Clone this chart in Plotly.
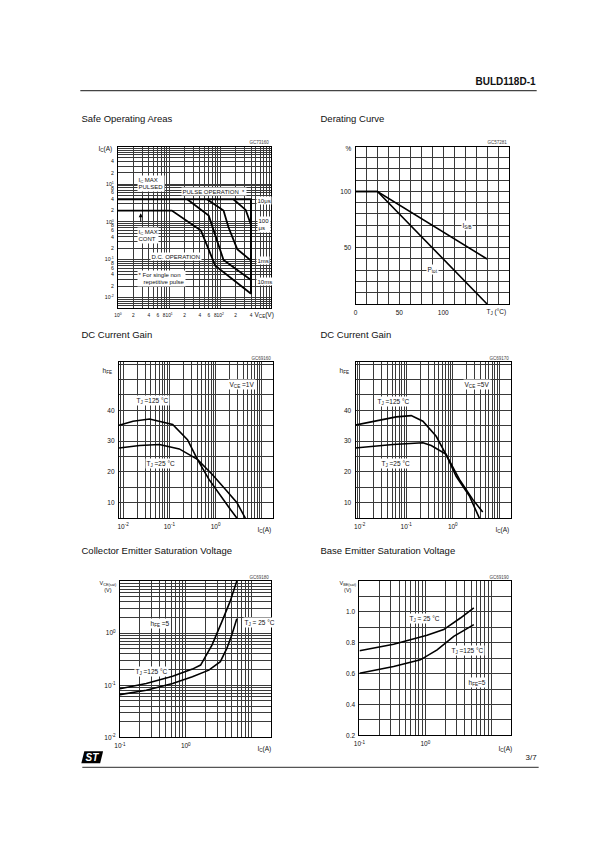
import plotly.graph_objects as go

W, H = 595, 842

# ---------------- data ----------------
# Safe operating areas (V_CE in V, I_C in A)
soa_lim_v = [1, 400, 400]
soa_lim_i = [4.0, 4.0, 0.0125]
soa_100us_v = [181, 315, 400]
soa_100us_i = [4.0, 2.08, 0.83]
soa_1ms_v = [55, 116, 145, 215, 400]
soa_1ms_i = [4.0, 2.0, 0.72, 0.19, 0.094]
soa_10ms_v = [22.6, 59.5, 116, 400]
soa_10ms_i = [4.0, 1.47, 0.098, 0.029]
soa_dc_v = [1, 11.3, 42, 80, 400]
soa_dc_i = [2.0, 2.0, 0.59, 0.069, 0.0125]

# Derating curve
der_tj = [0, 25, 150]
der_ptot = [100, 100, 0]
der_isb = [100, 100, 40]

# DC current gain, V_CE = 1 V
g1_ic_125 = [0.0082, 0.0164, 0.0373, 0.118, 0.247, 0.405, 0.72, 1.28, 2.1, 2.91]
g1_hfe_125 = [35.2, 36.5, 37.2, 35.4, 30.5, 24.1, 17.6, 12.2, 7.8, 5.0]
g1_ic_25 = [0.0082, 0.0228, 0.061, 0.164, 0.405, 0.85, 1.64, 2.91, 4.4]
g1_hfe_25 = [27.8, 28.6, 28.9, 27.5, 24.1, 19.2, 14.3, 10.0, 5.0]

# DC current gain, V_CE = 5 V
g5_ic_125 = [0.0078, 0.0228, 0.061, 0.128, 0.228, 0.44, 0.72, 1.39, 2.68, 4.4]
g5_hfe_125 = [35.2, 36.5, 37.9, 38.3, 36.5, 31.6, 25.7, 17.6, 11.1, 7.0]
g5_ic_25 = [0.0078, 0.0518, 0.228, 0.344, 0.72, 1.18, 2.28, 3.73]
g5_hfe_25 = [27.8, 28.9, 29.5, 28.6, 25.7, 18.6, 12.2, 5.0]

# Collector-emitter saturation voltage, hFE = 5
vce_ic_125 = [0.1, 0.251, 0.631, 1.26, 1.68, 2.51, 3.55, 4.73, 5.96]
vce_v_125 = [0.086, 0.108, 0.149, 0.204, 0.244, 0.594, 1.68, 4.1, 10.0]
vce_ic_25 = [0.1, 0.251, 0.631, 1.26, 2.24, 3.35, 4.22, 5.01, 5.96]
vce_v_25 = [0.066, 0.080, 0.108, 0.145, 0.195, 0.283, 0.513, 0.93, 1.89]

# Base-emitter saturation voltage, hFE = 5
vbe_ic_25 = [0.1, 0.33, 1.06, 1.9, 3.41, 5.45]
vbe_v_25 = [0.748, 0.79, 0.848, 0.885, 0.96, 1.026]
vbe_ic_125 = [0.1, 0.33, 0.84, 1.51, 2.7, 5.45]
vbe_v_125 = [0.602, 0.646, 0.689, 0.754, 0.841, 0.917]

FONT = "Liberation Sans, Arial, Helvetica, sans-serif"
INK = "#111111"
GRID = "#3a3a3a"


def sup10(e):
    return "10<sup>%d</sup>" % e


def log_ticks(e0, e1, labels):
    vals, text = [], []
    for e in range(e0, e1 + 1):
        for m in range(1, 10):
            vals.append(m * 10.0 ** e)
            text.append(labels.get((e, m), ""))
    return vals, text


def xd(a, b):
    return [a / W, b / W]


def yd(top, bot):
    return [1 - bot / H, 1 - top / H]


fig = go.Figure()
lay = {}


def axis(name, dom, rng, typ, vals, text, fsize=6.5):
    d = dict(domain=dom, range=rng, type=typ, tickmode="array", tickvals=vals,
             ticktext=text, showgrid=True, gridcolor=GRID, gridwidth=0.6,
             showline=True, mirror=True, linecolor="#000", linewidth=1.1,
             zeroline=False, ticks="", ticklabelstandoff=2, tickangle=0,
             tickfont=dict(family=FONT, size=fsize, color=INK), fixedrange=True)
    lay[name] = d


def line(x, y, xa, ya, width=1.6):
    fig.add_trace(go.Scatter(x=x, y=y, mode="lines", xaxis=xa, yaxis=ya,
                             line=dict(color="#000", width=width),
                             showlegend=False, hoverinfo="skip"))


# ---- chart 1: SOA ----
xv, xt = log_ticks(0, 2, {(0, 1): sup10(0), (0, 2): "2", (0, 4): "4", (0, 6): "6", (0, 8): "8",
                          (1, 1): sup10(1), (1, 2): "2", (1, 4): "4", (1, 6): "6", (1, 8): "8",
                          (2, 1): sup10(2), (2, 2): "2", (2, 4): "4"})
xv.append(1000.0); xt.append("")
axis("xaxis", xd(105, 260), [0, 3], "log", xv, xt, 4.8)
yv, yt = log_ticks(-3, 1, {(-2, 1): sup10(-2), (-2, 2): "2", (-2, 4): "4", (-2, 6): "6", (-2, 8): "8",
                           (-1, 1): sup10(-1), (-1, 2): "2", (-1, 4): "4", (-1, 6): "6", (-1, 8): "8",
                           (0, 1): sup10(0), (0, 2): "2", (0, 4): "4", (0, 6): "6", (0, 8): "8",
                           (1, 1): sup10(1), (1, 2): "2", (1, 4): "4"})
yv.append(100.0); yt.append("")
axis("yaxis", yd(139, 301), [-2.28, 2.0], "log", yv, yt, 5.2)
line(soa_lim_v, soa_lim_i, "x", "y", 2.0)
line(soa_100us_v, soa_100us_i, "x", "y", 1.8)
line(soa_1ms_v, soa_1ms_i, "x", "y", 1.8)
line(soa_10ms_v, soa_10ms_i, "x", "y", 1.8)
line(soa_dc_v, soa_dc_i, "x", "y", 1.8)

# ---- chart 2: derating ----
tv = [i * 12.5 for i in range(15)]
tt = [{0: "0", 4: "50", 8: "100"}.get(i, "") for i in range(15)]
axis("xaxis2", xd(345, 500), [0, 175], "linear", tv, tt)
pv = list(range(0, 141, 10))
pt = [{50: "50", 100: "100"}.get(v, "") for v in pv]
axis("yaxis2", yd(139, 297), [0, 140], "linear", pv, pt)
line(der_tj, der_ptot, "x2", "y2", 1.6)
line(der_tj, der_isb, "x2", "y2", 1.6)

# ---- charts 3/4: hFE ----
gv, gt = log_ticks(-3, 1, {(-2, 1): sup10(-2), (-1, 1): sup10(-1), (0, 1): sup10(0)})
hv = list(range(5, 56, 5))
ht = [str(v) if v in (10, 20, 30, 40) else "" for v in hv]
axis("xaxis3", xd(106, 262), [-2.09, 1.25], "log", gv, gt)
axis("yaxis3", yd(355, 512), [5, 55.8], "linear", hv, ht)
axis("xaxis4", xd(345, 502), [-2.09, 1.25], "log", gv, gt)
axis("yaxis4", yd(355, 512), [5, 55.8], "linear", hv, ht)
line(g1_ic_125, g1_hfe_125, "x3", "y3")
line(g1_ic_25, g1_hfe_25, "x3", "y3")
line(g5_ic_125, g5_hfe_125, "x4", "y4")
line(g5_ic_25, g5_hfe_25, "x4", "y4")

# ---- chart 5: VCE(sat) ----
sv, st = log_ticks(-1, 1, {(-1, 1): sup10(-1), (0, 1): sup10(0)})
axis("xaxis5", xd(107, 260), [-1, 1.3], "log", sv, st)
vv, vt = log_ticks(-2, 0, {(-2, 1): sup10(-2), (-1, 1): sup10(-1), (0, 1): sup10(0)})
vv.append(10.0); vt.append("")
axis("yaxis5", yd(575, 732), [-2, 1], "log", vv, vt)
line(vce_ic_125, vce_v_125, "x5", "y5")
line(vce_ic_25, vce_v_25, "x5", "y5")

# ---- chart 6: VBE(sat) ----
axis("xaxis6", xd(349, 502), [-1, 1.3], "log", sv, st)
bv = [round(0.2 + 0.1 * i, 1) for i in range(11)]
bt = ["%.1f" % v if i % 2 == 0 and v < 1.1 else "" for i, v in enumerate(bv)]
axis("yaxis6", yd(575, 730), [0.2, 1.2], "linear", bv, bt)
line(vbe_ic_25, vbe_v_25, "x6", "y6")
line(vbe_ic_125, vbe_v_125, "x6", "y6")

for i in range(1, 7):
    k = "" if i == 1 else str(i)
    lay["xaxis" + k]["anchor"] = "y" + k
    lay["yaxis" + k]["anchor"] = "x" + k

# ---------------- annotations ----------------
ann = []


def pa(x, y, text, size=6.5, xa="center", ya="middle", bg=None, bold=False, align="center", color=INK):
    d = dict(x=x / W, y=1 - y / H, xref="paper", yref="paper", text=("<b>%s</b>" % text) if bold else text,
             showarrow=False, xanchor=xa, yanchor=ya, align=align,
             font=dict(family=FONT, size=size, color=color), borderpad=0.5)
    if bg:
        d["bgcolor"] = bg
    ann.append(d)


# header / footer
pa(528, 73, "BULD118D-1", size=10, xa="right", bold=True)
pa(530, 752, "3/7", size=8, xa="right")

# titles
pa(67, 110, "Safe Operating Areas", size=9.5, xa="left")
pa(308, 110, "Derating Curve", size=9.5, xa="left")
pa(67, 327, "DC Current Gain", size=9.5, xa="left")
pa(308, 327, "DC Current Gain", size=9.5, xa="left")
pa(67, 544, "Collector Emitter Saturation Voltage", size=9.5, xa="left")
pa(308, 544, "Base Emitter Saturation Voltage", size=9.5, xa="left")

# figure codes
for x, y, t in [(260, 134, "GC73160"), (500, 134, "GC57281"), (262, 351, "GC69160"),
                (502, 351, "GC69170"), (260, 571, "GC69180"), (502, 571, "GC69190")]:
    pa(x, y, t, size=4.5, xa="right", color="#444")

# axis titles
pa(101, 141, "I<sub>C</sub>(A)", xa="right")
pa(253, 308, "V<sub>CE</sub>(V)")
pa(338, 141, "%")
pa(487, 305, "T<sub>J</sub> (°C)")
pa(100, 364, "h<sub>FE</sub>", xa="right")
pa(339, 364, "h<sub>FE</sub>", xa="right")
pa(253, 523, "I<sub>C</sub>(A)")
pa(493, 523, "I<sub>C</sub>(A)")
pa(95, 580, "V<sub>CE(sat)</sub><br>(V)", size=5.5)
pa(337, 580, "V<sub>BE(sat)</sub><br>(V)", size=5.5)
pa(253, 743, "I<sub>C</sub>(A)")
pa(497, 743, "I<sub>C</sub>(A)")

# SOA texts
pa(124, 176, "I<sub>C</sub> MAX<br>PULSED", size=6, xa="left", bg="white", align="left")
pa(202, 184, "PULSE OPERATION  *", size=6, bg="white")
pa(244, 193, "10μs", size=6, xa="left", bg="white")
pa(245, 217, "100<br>μs", size=6, xa="left", bg="white", align="left")
pa(124, 228, "I<sub>C</sub> MAX<br>CONT", size=6, xa="left", bg="white", align="left")
pa(164, 249, "D.C. OPERATION", size=6, bg="white")
pa(244, 253, "1ms", size=6, xa="left", bg="white")
pa(124, 271, "* For single non<br>   repetitive pulse", size=6, xa="left", bg="white", align="left")
pa(244, 274, "10ms", size=6, xa="left", bg="white")
ann.append(dict(x=128 / W, y=1 - 206 / H, xref="paper", yref="paper", ax=0, ay=10,
                showarrow=True, arrowhead=2, arrowsize=0.8, arrowwidth=1, arrowcolor="#000", text=""))

# derating texts
pa(458, 218, "I<sub>S/B</sub>", bg="white")
pa(423, 262, "P<sub>tot</sub>", bg="white")

# hFE texts
pa(230, 378, "V<sub>CE</sub> =1V", bg="white")
pa(140, 394, "T<sub>J</sub> =125 °C", bg="white")
pa(148, 457, "T<sub>J</sub> =25 °C", bg="white")
pa(468, 378, "V<sub>CE</sub> =5V", bg="white")
pa(383, 395, "T<sub>J</sub> =125 °C", bg="white")
pa(386, 457, "T<sub>J</sub> =25 °C", bg="white")

# VCE(sat) texts
pa(147, 618, "h<sub>FE</sub> =5", bg="white")
pa(248, 617, "T<sub>J</sub> = 25 °C", bg="white")
pa(139, 666, "T<sub>J</sub> =125 °C", bg="white")

# VBE(sat) texts
pa(415, 613, "T<sub>J</sub> = 25 °C", bg="white")
pa(458, 645, "T<sub>J</sub> =125 °C", bg="white")
pa(468, 677, "h<sub>FE</sub>=5", bg="white")

# ST logo text
pa(79, 752, "<i>ST</i>", size=10, bold=True, color="white")

shapes = [
    dict(type="line", xref="paper", yref="paper", x0=67 / W, x1=528 / W, y0=1 - 83 / H, y1=1 - 83 / H,
         line=dict(color="#444", width=1.2)),
    dict(type="line", xref="paper", yref="paper", x0=69 / W, x1=530 / W, y0=1 - 762 / H, y1=1 - 762 / H,
         line=dict(color="#555", width=1.2)),
    dict(type="path", xref="paper", yref="paper",
         path="M %f %f L %f %f L %f %f L %f %f Z" % (71 / W, 1 - 746 / H, 90 / W, 1 - 746 / H,
                                                    87 / W, 1 - 758 / H, 68 / W, 1 - 758 / H),
         fillcolor="#000", line=dict(width=0)),
]

fig.update_layout(width=W, height=H, margin=dict(l=0, r=0, t=0, b=0),
                  paper_bgcolor="white", plot_bgcolor="white", showlegend=False,
                  annotations=ann, shapes=shapes, **lay)
fig.write_html("out.html")
